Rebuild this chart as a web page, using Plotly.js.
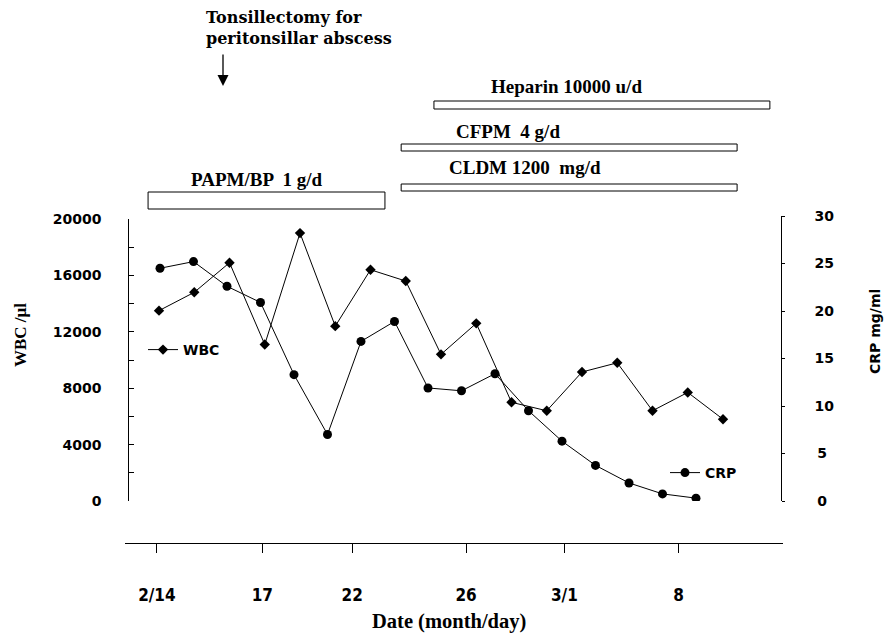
<!DOCTYPE html>
<html><head><meta charset="utf-8">
<script src="https://cdn.plot.ly/plotly-3.0.1.min.js"></script>
<style>html,body{margin:0;padding:0;background:#fff}#chart{width:885px;height:634px}</style>
</head><body><div id="chart"></div>
<script>
// ---- data ----
const sampleNo = [1,2,3,4,5,6,7,8,9,10,11,12,13,14,15,16,17];
const wbc = [13500,14800,16900,11100,19000,12400,16400,15600,10400,12600,7000,6400,9150,9800,6400,7700,5800];
const crp = [24.5,25.2,22.6,20.9,13.3,7.0,16.8,18.9,11.9,11.6,13.4,9.5,6.3,3.75,1.9,0.75,0.3];
const dateTickPos = [0.94,3.93,6.48,9.71,12.50,15.74];
const dateTickText = ['2/14','17','22','26','3/1','8'];
const wbcTicks = [0,4000,8000,12000,16000,20000];
const wbcTickText = ['0','4000','8000','12000','16000','20000'];
const crpTicks = [0,5,10,15,20,25,30];
const crpTickText = ['\u20090','\u20095','10','15','20','25','30'];
const treatNames = ['PAPM/BP  1 g/d','CLDM 1200  mg/d','CFPM  4 g/d','Heparin 10000 u/d'];
const treatStart = [0.69,7.87,7.87,8.80];
const treatEnd = [7.41,17.40,17.40,18.33];
const eventText = 'Tonsillectomy for<br>peritonsillar abscess';

// ---- layout helpers (pixel -> paper) ----
const L=125, R=783, T=216, B=543, W=885, H=634;
const px2x = p => (p-L)/(R-L);
const py2y = p => (B-p)/(B-T);

const sans = 'DejaVu Sans, Liberation Sans, Arial, sans-serif';
const serif = 'Liberation Serif, Times New Roman, serif';
const narrow = 'Liberation Sans Narrow, DejaVu Sans Condensed, Liberation Sans, Arial, sans-serif';

const traces = [
  {x: sampleNo, y: wbc, name: 'WBC', type: 'scatter', mode: 'lines+markers', xaxis: 'x', yaxis: 'y',
   line: {color: '#000', width: 1}, marker: {symbol: 'diamond', size: 8, color: '#000'}, legend: 'legend'},
  {x: sampleNo, y: crp, name: 'CRP', type: 'scatter', mode: 'lines+markers', xaxis: 'x2', yaxis: 'y2',
   line: {color: '#000', width: 1}, marker: {symbol: 'circle', size: 9, color: '#000'}, legend: 'legend2'}
];

// treatment bars
const barPix = [[192,209],[184,191],[144,151],[101,109]];
const shapes = treatNames.map((n,i) => ({
  type: 'rect', xref: 'x', yref: 'paper', x0: treatStart[i], x1: treatEnd[i],
  y0: py2y(barPix[i][1]), y1: py2y(barPix[i][0]),
  line: {color: '#000', width: 1}, fillcolor: '#fff'
}));

const labelPix = [[256,179],[525,167],[508,131],[566,87]];
const annotations = treatNames.map((n,i) => ({
  text: n, xref: 'paper', yref: 'paper', x: px2x(labelPix[i][0]), y: py2y(labelPix[i][1]),
  xanchor: 'center', yanchor: 'middle', showarrow: false,
  font: {family: serif, size: 19, color: '#000', weight: 'bold'}
}));
annotations.push({
  text: eventText, xref: 'paper', yref: 'paper', x: px2x(204), y: py2y(6),
  xanchor: 'left', yanchor: 'top', align: 'left', showarrow: false,
  font: {family: 'DejaVu Serif, serif', size: 16, color: '#000', weight: 'bold'}
});
annotations.push({
  text: '', xref: 'paper', yref: 'paper', x: px2x(223), y: py2y(86),
  ax: 0, ay: -33, showarrow: true, arrowhead: 2, arrowsize: 1.7, arrowwidth: 1.3, arrowcolor: '#000', standoff: 0
});
annotations.push({
  text: 'WBC /\u03bcl', xref: 'paper', yref: 'paper', x: px2x(20), y: py2y(335),
  textangle: -90, showarrow: false, xanchor: 'center', yanchor: 'middle',
  font: {family: serif, size: 17, color: '#000', weight: 'bold'}
});
annotations.push({
  text: 'CRP mg/ml', xref: 'paper', yref: 'paper', x: px2x(875), y: py2y(332),
  textangle: -90, showarrow: false, xanchor: 'center', yanchor: 'middle',
  font: {family: sans, size: 14, color: '#000', weight: 'bold'}
});
annotations.push({
  text: 'Date (month/day)', xref: 'paper', yref: 'paper', x: px2x(449), y: py2y(621),
  showarrow: false, xanchor: 'center', yanchor: 'middle',
  font: {family: serif, size: 20.5, color: '#000', weight: 'bold'}
});

const tickFont = {family: sans, size: 14, color: '#000', weight: 'bold'};

const layout = {
  width: W, height: H,
  margin: {l: L, r: W-R, t: T, b: H-B, pad: 0},
  paper_bgcolor: '#fff', plot_bgcolor: 'rgba(0,0,0,0)',
  showlegend: true,
  legend: {x: px2x(143), y: py2y(350), xanchor: 'left', yanchor: 'middle', bgcolor: 'rgba(0,0,0,0)',
           font: {family: sans, size: 14, color: '#000', weight: 'bold'}, itemwidth: 30, borderwidth: 0},
  legend2: {x: px2x(665), y: py2y(473), xanchor: 'left', yanchor: 'middle', bgcolor: 'rgba(0,0,0,0)',
           font: {family: sans, size: 14, color: '#000', weight: 'bold'}, itemwidth: 30, borderwidth: 0},
  xaxis: {domain: [0,1], anchor: 'free', position: 0, range: [0.0355, 18.702],
          showline: true, linecolor: '#000', linewidth: 1, showgrid: false, zeroline: false,
          tickmode: 'array', tickvals: dateTickPos, ticktext: dateTickText,
          ticks: 'outside', ticklen: 9, tickcolor: '#000', ticklabelstandoff: 28,
          tickfont: {family: narrow, size: 17, color: '#000', weight: 'bold'}},
  xaxis2: {domain: [0,1], anchor: 'y2', range: [-0.0448, 19.597], visible: false},
  yaxis: {domain: [py2y(501), py2y(219)], anchor: 'free', position: px2x(128.3), range: [0,20000],
          showline: true, linecolor: '#000', linewidth: 1, showgrid: false, zeroline: false,
          tickmode: 'array', tickvals: wbcTicks, ticktext: wbcTickText, ticks: 'inside', ticklen: 5, tickcolor: '#000',
          minor: {tickmode: 'linear', tick0: 0, dtick: 2000, ticks: 'inside', ticklen: 5, tickcolor: '#000', showgrid: false},
          ticklabelstandoff: 24, tickfont: tickFont},
  yaxis2: {domain: [py2y(501), py2y(216)], anchor: 'free', position: px2x(780.7), side: 'right', range: [0,30],
          showline: true, linecolor: '#000', linewidth: 1, showgrid: false, zeroline: false,
          tickmode: 'array', tickvals: crpTicks, ticktext: crpTickText, ticks: 'outside', ticklen: 3, tickcolor: '#000',
          ticklabelstandoff: 27, tickfont: tickFont},
  shapes: shapes,
  annotations: annotations
};

Plotly.newPlot('chart', traces, layout, {displayModeBar: false, staticPlot: true});
</script></body></html>
